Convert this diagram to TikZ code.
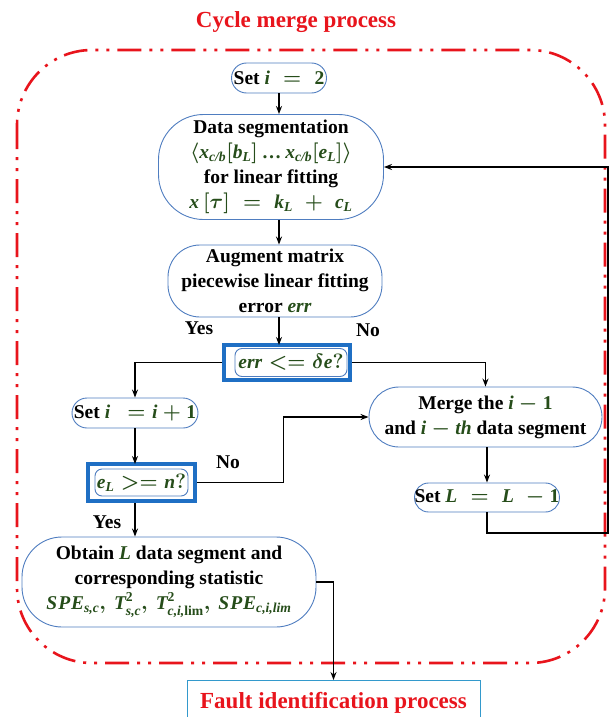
\documentclass[tikz,border=0pt]{standalone}
\usepackage{amsmath}
\usepackage{fontspec}
\setmainfont{Liberation Serif}
\usetikzlibrary{arrows.meta}
\definecolor{mgreen}{HTML}{264D1A}
\definecolor{pillblue}{HTML}{4F7DC0}
\definecolor{declblue}{HTML}{1F6FC4}
\definecolor{faultblue}{HTML}{3399CC}
\definecolor{framered}{HTML}{E8141C}
\newcommand{\gm}[1]{\textcolor{mgreen}{$#1$}}
\newcommand{\I}[1]{\textit{#1}}
\begin{document}
\begin{tikzpicture}[x=1pt,y=-1pt,
  every node/.style={font=\fontsize{19.5}{25}\selectfont\bfseries\boldmath},
  pill/.style={draw=pillblue, line width=0.9pt, fill=white, align=center, inner sep=0pt},
  declout/.style={draw=declblue, line width=4pt, fill=white, inner sep=0pt},
  declin/.style={draw=pillblue, line width=0.9pt, rounded corners=7pt, inner sep=0pt},
  lbl/.style={inner sep=0pt},
  arr/.style={draw=black, line width=1.3pt, -{Stealth[length=8pt,width=6pt]}},
  conn/.style={draw=black, line width=1.3pt}]
\useasboundingbox (0,0) rectangle (609,717);
% title and frame
\node[lbl, text=framered, font=\fontsize{23}{27}\selectfont\bfseries] (title) at (296,22) {Cycle merge process};
\draw[framered, line width=2.6pt, dash pattern=on 24pt off 8pt on 3pt off 8pt on 3pt off 8pt, rounded corners=75pt]
  (17,50) rectangle (605,663);
% nodes
\node[pill, minimum width=95, minimum height=30, rounded corners=15pt] (set2) at (279,78) {Set \gm{\I{i}\;=\;\text{2}}};
\node[pill, minimum width=225, minimum height=105, rounded corners=45pt] (dataseg) at (271,167)
  {Data segmentation\\ \gm{\langle \I{x}_{\I{c/b}}[\I{b}_{\I{L}}]\,\text{\ldots}\,\I{x}_{\I{c/b}}[\I{e}_{\I{L}}]\rangle}\\ for linear fitting\\ \gm{\I{x}\,[\tau]\;=\;\I{k}_{\I{L}}\;+\;\I{c}_{\I{L}}}};
\node[pill, minimum width=214, minimum height=72, rounded corners=32pt] (augment) at (275,281)
  {Augment matrix\\ piecewise linear fitting\\ error \gm{\I{err}}};
\node[declout, minimum width=126, minimum height=35] (dec1) at (287,362.5) {};
\node[declin, minimum width=112, minimum height=28] (dec1in) at (291,362.5) {\gm{\I{err} <= \delta\I{e}?}};
\node[lbl] (yes1) at (199,328) {Yes};
\node[lbl] (no1) at (368,330) {No};
\node[pill, minimum width=126, minimum height=30, rounded corners=15pt] (seti1) at (135,413) {Set \gm{\I{i}\;\,=\I{i}+\text{1}}};
\node[declout, minimum width=107, minimum height=37] (dec2) at (141.5,482.5) {};
\node[declin, minimum width=93, minimum height=27] (dec2in) at (141.5,482.5) {\gm{\I{e}_{\I{L}} >= \I{n}?}};
\node[lbl] (no2) at (228,462) {No};
\node[pill, minimum width=233, minimum height=60, rounded corners=30pt] (merge) at (485.5,417)
  {Merge the \gm{\I{i}-\text{1}}\\ and \gm{\I{i}-\I{th}} data segment};
\node[pill, minimum width=136, minimum height=29, rounded corners=14pt] (setL) at (487,497.5) {Set \gm{\I{L}\;=\;\I{L}\;-\text{1}}};
\node[lbl] (yes2) at (107,522) {Yes};
\node[pill, minimum width=294, minimum height=90, rounded corners=40pt] (obtain) at (169,582)
  {Obtain \gm{\I{L}} data segment and\\ corresponding statistic\\ \gm{\I{S\kern1ptP\kern1ptE}_{\I{s,c}},\,\I{T}^{\text{2}}_{\I{s,c}},\,\I{T}^{\text{2}}_{\I{c,i,}\text{lim}},\,\I{S\kern1ptP\kern1ptE}_{\I{c,i,lim}}}};
\node[draw=faultblue, line width=1pt, minimum width=293, minimum height=44, anchor=north, text=framered,
  font=\fontsize{23}{27}\selectfont\bfseries, inner sep=0pt] (fault) at (333.5,680) {Fault identification process};
% connectors
\coordinate (fbR) at (608,533);
\draw[arr] (set2.south) -- (set2.south |- dataseg.north);
\draw[arr] (set2.south |- dataseg.south) -- (set2.south |- augment.north);
\draw[arr] (set2.south |- augment.south) -- ([yshift=-2pt]set2.south |- dec1.north);
\draw[arr] (dec1.west) -| (seti1.north);
\draw[arr] (dec1.east) -| (merge.north);
\draw[arr] (seti1.south) -- ([yshift=-2pt]seti1.south |- dec2.north);
\draw[arr] (dec2.east) -- ++(86.5,0) |- (merge.west);
\draw[arr] (merge.south -| setL.north) -- (setL.north);
\draw[arr] (setL.south) |- (fbR) |- (dataseg.east);
\draw[arr] (seti1.south |- dec2.south) -- (seti1.south |- obtain.north);
\draw[arr] (obtain.east) -| (fault.north);
\end{tikzpicture}
\end{document}
